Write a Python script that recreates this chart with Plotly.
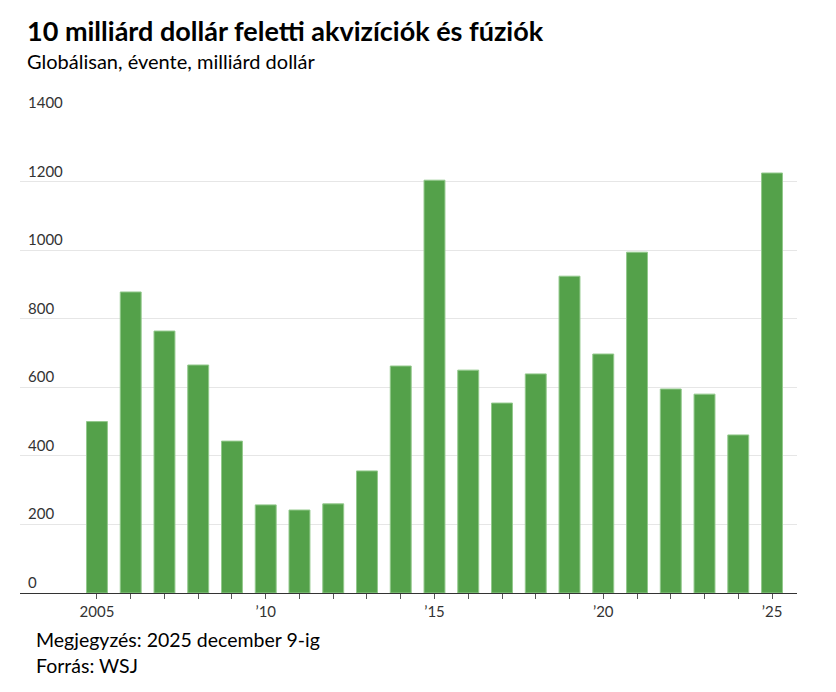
import plotly.graph_objects as go

years = list(range(2005, 2026))
values = [500, 878, 764, 665, 443, 257, 242, 260, 356, 662, 1204, 650, 554, 639, 924, 697, 994, 595, 580, 461, 1225]
tick_vals = [2005, 2010, 2015, 2020, 2025]
tick_text = ["2005", "’10", "’15", "’20", "’25"]
y_ticks = [0, 200, 400, 600, 800, 1000, 1200, 1400]

title = "10 milliárd dollár feletti akvizíciók és fúziók"
subtitle = "Globálisan, évente, milliárd dollár"
note = "Megjegyzés: 2025 december 9-ig"
source = "Forrás: WSJ"

FONT = "Lato, Open Sans, sans-serif"

fig = go.Figure(go.Bar(
    x=years, y=values,
    marker=dict(color="#54a14a", line=dict(color="#93c98c", width=1)),
    width=0.62,
    hoverinfo="x+y",
))

fig.update_layout(
    width=836, height=692,
    margin=dict(l=12, r=47, t=105, b=107),
    paper_bgcolor="white", plot_bgcolor="white",
    showlegend=False,
    font=dict(family=FONT, color="#333333", size=14),
    xaxis=dict(
        range=[2002.72, 2025.74],
        tickmode="array", tickvals=years,
        ticktext=[tick_text[tick_vals.index(y)] if y in tick_vals else "" for y in years],
        ticks="outside", ticklen=5, tickcolor="#555555", tickwidth=1,
        showline=True, linecolor="#333333", linewidth=1,
        showgrid=False, zeroline=False,
        tickfont=dict(size=15, color="#333333"),
    ),
    yaxis=dict(
        range=[0, 1400],
        tickmode="array", tickvals=y_ticks,
        showticklabels=False,
        ticks="", showline=False,
        showgrid=True, gridcolor="#e6e6e6", gridwidth=1,
        zeroline=False,
    ),
    bargap=0.38,
)

for v in y_ticks:
    fig.add_annotation(text=str(v), xref="paper", yref="y",
                       x=0, y=v, xanchor="left", yanchor="bottom",
                       xshift=6, yshift=0, showarrow=False,
                       font=dict(family=FONT, size=15, color="#333333"))

fig.add_annotation(text="<b>" + title + "</b>", xref="paper", yref="paper",
                   x=0, y=1.0, xanchor="left", yanchor="bottom",
                   xshift=5, yshift=64, showarrow=False,
                   font=dict(family=FONT, size=27, color="#000000"))
fig.add_annotation(text=subtitle, xref="paper", yref="paper",
                   x=0, y=1.0, xanchor="left", yanchor="bottom",
                   xshift=5, yshift=38, showarrow=False,
                   font=dict(family=FONT, size=20, color="#000000"))
fig.add_annotation(text=note, xref="paper", yref="paper",
                   x=0, y=0, xanchor="left", yanchor="top",
                   xshift=14, yshift=-33, showarrow=False,
                   font=dict(family=FONT, size=19.5, color="#000000"))
fig.add_annotation(text=source, xref="paper", yref="paper",
                   x=0, y=0, xanchor="left", yanchor="top",
                   xshift=14, yshift=-59, showarrow=False,
                   font=dict(family=FONT, size=19.5, color="#000000"))

fig.write_html("out.html")
